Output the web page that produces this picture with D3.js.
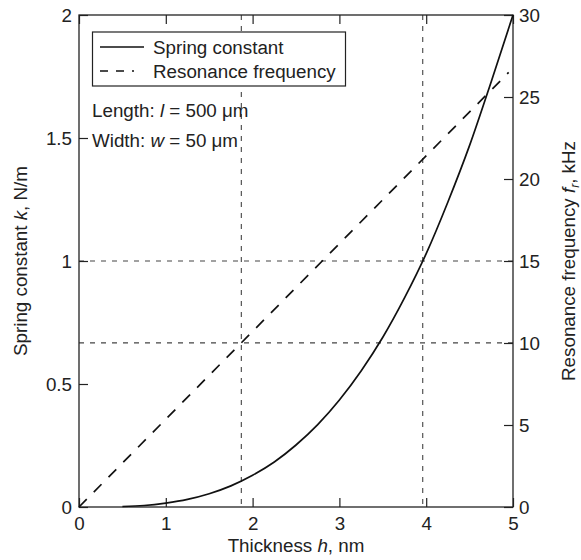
<!DOCTYPE html>
<html>
<head>
<meta charset="utf-8">
<script src="https://cdn.jsdelivr.net/npm/d3@7"></script>
<style>
  body { margin: 0; background: #fff; }
  text { font-family: "Liberation Sans", Arial, Helvetica, sans-serif; fill: #222; }
</style>
</head>
<body>
<div id="chart"></div>
<script>
// values
var thickness = [0.5, 0.75, 1, 1.25, 1.5, 1.75, 2, 2.25, 2.5, 2.75, 3, 3.25, 3.5, 3.75, 4, 4.25, 4.5, 4.75, 5];
var springK   = [0.002, 0.006, 0.016, 0.031, 0.054, 0.086, 0.129, 0.183, 0.252, 0.335, 0.435, 0.553, 0.69, 0.85, 1.03, 1.24, 1.47, 1.73, 2.0];
var resThickness = [0, 4.95];
var resFreq      = [0, 26.5];
var kRefLevels = [1, 0.667];      // horizontal dashed guides (k axis)
var hRefLevels = [1.87, 3.96];    // vertical dashed guides
var xTicks = [0, 1, 2, 3, 4, 5];
var kTicks = [0, 0.5, 1, 1.5, 2];
var fTicks = [0, 5, 10, 15, 20, 25, 30];

var w = 581, h = 560;
var pL = 79, pR = 513, pT = 15, pB = 507;
var fs = 18.8;

var svg = d3.select("#chart").append("svg")
  .attr("width", w).attr("height", h);

var x = d3.scaleLinear().domain([0, 5]).range([pL, pR]);
var yK = d3.scaleLinear().domain([0, 2]).range([pB, pT]);
var yF = d3.scaleLinear().domain([0, 30]).range([pB, pT]);

// dashed guides
svg.selectAll("line.hg").data(kRefLevels).enter().append("line")
  .attr("x1", pL).attr("x2", pR)
  .attr("y1", function(d) { return yK(d); }).attr("y2", function(d) { return yK(d); })
  .style("stroke", "#444").style("stroke-width", 1.1).style("stroke-dasharray", "5,6");
svg.selectAll("line.vg").data(hRefLevels).enter().append("line")
  .attr("x1", function(d) { return x(d); }).attr("x2", function(d) { return x(d); })
  .attr("y1", pT).attr("y2", pB)
  .style("stroke", "#444").style("stroke-width", 1.1).style("stroke-dasharray", "5,6");

// axes (inward ticks)
function styleAxis(g) {
  g.select(".domain").remove();
  g.selectAll(".tick line").style("stroke", "#222").style("stroke-width", 1.2);
  g.selectAll(".tick text").style("font-size", fs + "px").style("font-family", "Liberation Sans, Arial, sans-serif").attr("fill", "#222");
}
svg.append("g").attr("transform", "translate(0," + pB + ")")
  .call(d3.axisBottom(x).tickValues(xTicks).tickSizeInner(-9).tickSizeOuter(0).tickPadding(10).tickFormat(d3.format("d")))
  .call(styleAxis);
svg.append("g").attr("transform", "translate(0," + pT + ")")
  .call(d3.axisTop(x).tickValues(xTicks).tickSizeInner(-9).tickSizeOuter(0).tickFormat(""))
  .call(styleAxis);
svg.append("g").attr("transform", "translate(" + pL + ",0)")
  .call(d3.axisLeft(yK).tickValues(kTicks).tickSizeInner(-9).tickSizeOuter(0).tickPadding(7).tickFormat(function(d) { return d; }))
  .call(styleAxis);
svg.append("g").attr("transform", "translate(" + pR + ",0)")
  .call(d3.axisRight(yF).tickValues(fTicks).tickSizeInner(-9).tickSizeOuter(0).tickPadding(6).tickFormat(d3.format("d")))
  .call(styleAxis);

// frame
svg.append("rect")
  .attr("x", pL).attr("y", pT).attr("width", pR - pL).attr("height", pB - pT)
  .style("fill", "none").style("stroke", "#222").style("stroke-width", 1.3);

// curves
var kLine = d3.line()
  .x(function(d, i) { return x(thickness[i]); })
  .y(function(d) { return yK(d); })
  .curve(d3.curveMonotoneX);
svg.append("path").datum(springK).attr("d", kLine)
  .style("fill", "none").style("stroke", "#111").style("stroke-width", 1.7);

var fLine = d3.line()
  .x(function(d, i) { return x(resThickness[i]); })
  .y(function(d) { return yF(d); });
svg.append("path").datum(resFreq).attr("d", fLine)
  .style("fill", "none").style("stroke", "#111").style("stroke-width", 1.7)
  .style("stroke-dasharray", "11,10");

// legend
var lg = svg.append("g");
lg.append("rect").attr("x", 92.5).attr("y", 32).attr("width", 253).attr("height", 54)
  .style("fill", "#fff").style("stroke", "#222").style("stroke-width", 1.2);
lg.append("line").attr("x1", 100).attr("x2", 144).attr("y1", 47).attr("y2", 47)
  .style("stroke", "#111").style("stroke-width", 1.7);
lg.append("line").attr("x1", 100).attr("x2", 134).attr("y1", 71).attr("y2", 71)
  .style("stroke", "#111").style("stroke-width", 1.7).style("stroke-dasharray", "8,8");
lg.append("text").attr("x", 153).attr("y", 47).attr("dy", "0.35em").style("font-size", fs + "px").text("Spring constant");
lg.append("text").attr("x", 153).attr("y", 71).attr("dy", "0.35em").style("font-size", fs + "px").text("Resonance frequency");

// annotations
var t1 = svg.append("text").attr("x", 92).attr("y", 110).attr("dy", "0.35em").style("font-size", fs + "px");
t1.append("tspan").text("Length: ");
t1.append("tspan").style("font-style", "italic").text("l");
t1.append("tspan").text(" = 500 μm");
var t2 = svg.append("text").attr("x", 92).attr("y", 140).attr("dy", "0.35em").style("font-size", fs + "px");
t2.append("tspan").text("Width: ");
t2.append("tspan").style("font-style", "italic").text("w");
t2.append("tspan").text(" = 50 μm");

// axis titles
var xt = svg.append("text").attr("x", (pL + pR) / 2).attr("y", 545).attr("dy", "0.35em")
  .attr("text-anchor", "middle").style("font-size", fs + "px");
xt.append("tspan").text("Thickness ");
xt.append("tspan").style("font-style", "italic").text("h");
xt.append("tspan").text(", nm");

var yt = svg.append("text").attr("transform", "translate(20," + (pT + pB) / 2 + ") rotate(-90)")
  .attr("dy", "0.35em").attr("text-anchor", "middle").style("font-size", fs + "px");
yt.append("tspan").text("Spring constant ");
yt.append("tspan").style("font-style", "italic").text("k");
yt.append("tspan").text(", N/m");

var rt = svg.append("text").attr("transform", "translate(568," + (pT + pB) / 2 + ") rotate(-90)")
  .attr("dy", "0.35em").attr("text-anchor", "middle").style("font-size", fs + "px");
rt.append("tspan").text("Resonance frequency ");
rt.append("tspan").style("font-style", "italic").text("f");
rt.append("tspan").style("font-style", "italic").style("font-size", "12px").attr("dy", "4").text("r");
rt.append("tspan").attr("dy", "-4").text(", kHz");
</script>
</body>
</html>
